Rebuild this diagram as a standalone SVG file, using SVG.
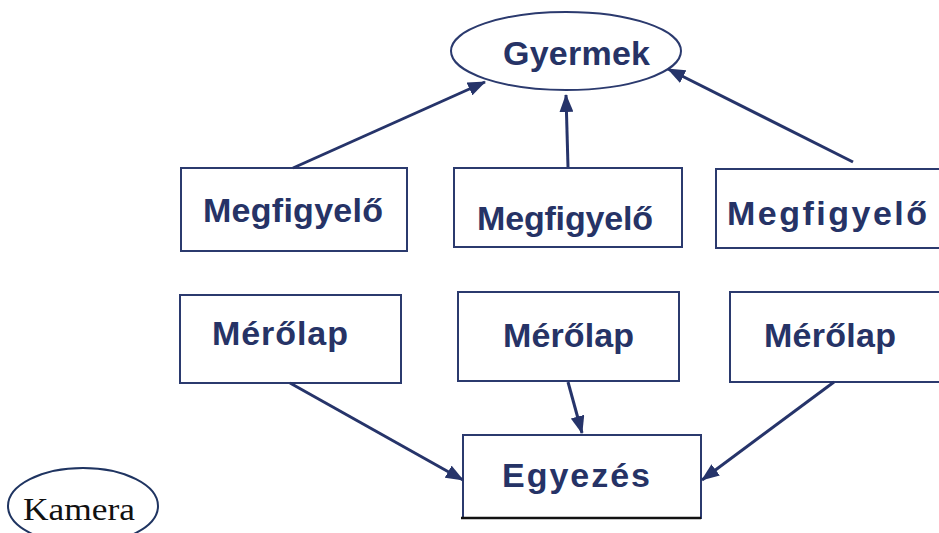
<svg xmlns="http://www.w3.org/2000/svg" width="939" height="533" viewBox="0 0 939 533">
<style>
.box{fill:#fff;stroke:#2b3a6e;stroke-width:2}
.lbl{font-family:"Liberation Sans",Arial,sans-serif;font-weight:bold;fill:#263366;font-size:34px}
.con{stroke:#26346a;stroke-width:3;fill:none;marker-end:url(#ah)}
</style>
<defs>
<marker id="ah" markerUnits="userSpaceOnUse" markerWidth="18" markerHeight="14" refX="17" refY="7" orient="auto">
<path d="M0,0 L18,7 L0,14 Z" fill="#26346a"/>
</marker>
</defs>
<rect width="939" height="533" fill="#fff"/>
<g id="gyermek">
<ellipse cx="566" cy="51" rx="115" ry="39" class="box"/>
<text x="503" y="65" class="lbl" textLength="147" lengthAdjust="spacing">Gyermek</text>
</g>
<g id="megfigyelo1">
<rect x="181" y="168" width="226" height="83" class="box"/>
<text x="203" y="222" class="lbl" textLength="180" lengthAdjust="spacing">Megfigyelő</text>
</g>
<g id="megfigyelo2">
<rect x="454" y="168" width="228" height="79" class="box"/>
<text x="477" y="230" class="lbl" textLength="176" lengthAdjust="spacing">Megfigyelő</text>
</g>
<g id="megfigyelo3">
<rect x="716" y="169" width="230" height="79" class="box"/>
<text x="727" y="225" class="lbl" textLength="200" lengthAdjust="spacing">Megfigyelő</text>
</g>
<g id="merolap1">
<rect x="180" y="295" width="221" height="88" class="box"/>
<text x="212" y="345" class="lbl" textLength="136" lengthAdjust="spacing">Mérőlap</text>
</g>
<g id="merolap2">
<rect x="458" y="292" width="221" height="89" class="box"/>
<text x="503" y="347" class="lbl" textLength="131" lengthAdjust="spacing">Mérőlap</text>
</g>
<g id="merolap3">
<rect x="730" y="292" width="216" height="90" class="box"/>
<text x="764" y="347" class="lbl" textLength="132" lengthAdjust="spacing">Mérőlap</text>
</g>
<g id="egyezes">
<rect x="463" y="435" width="238" height="83" class="box"/>
<line x1="461" y1="518" x2="701" y2="518" stroke="#111" stroke-width="2.5"/>
<text x="502" y="487" class="lbl" textLength="148" lengthAdjust="spacing">Egyezés</text>
</g>
<g id="kamera">
<ellipse cx="83" cy="506" rx="75" ry="38" fill="#fff" stroke="#1f3461" stroke-width="2"/>
<text x="23" y="520" font-family="Liberation Serif,'Times New Roman',serif" font-size="32" fill="#111" textLength="112" lengthAdjust="spacingAndGlyphs">Kamera</text>
</g>
<g id="connectors">
<line x1="293" y1="168" x2="485" y2="82" class="con"/>
<line x1="568" y1="167" x2="566" y2="95" class="con"/>
<line x1="853" y1="162" x2="668" y2="69" class="con"/>
<line x1="290" y1="383" x2="463" y2="480" class="con"/>
<line x1="568" y1="382" x2="582" y2="433" class="con"/>
<line x1="834" y1="382" x2="702" y2="480" class="con"/>
</g>
</svg>
